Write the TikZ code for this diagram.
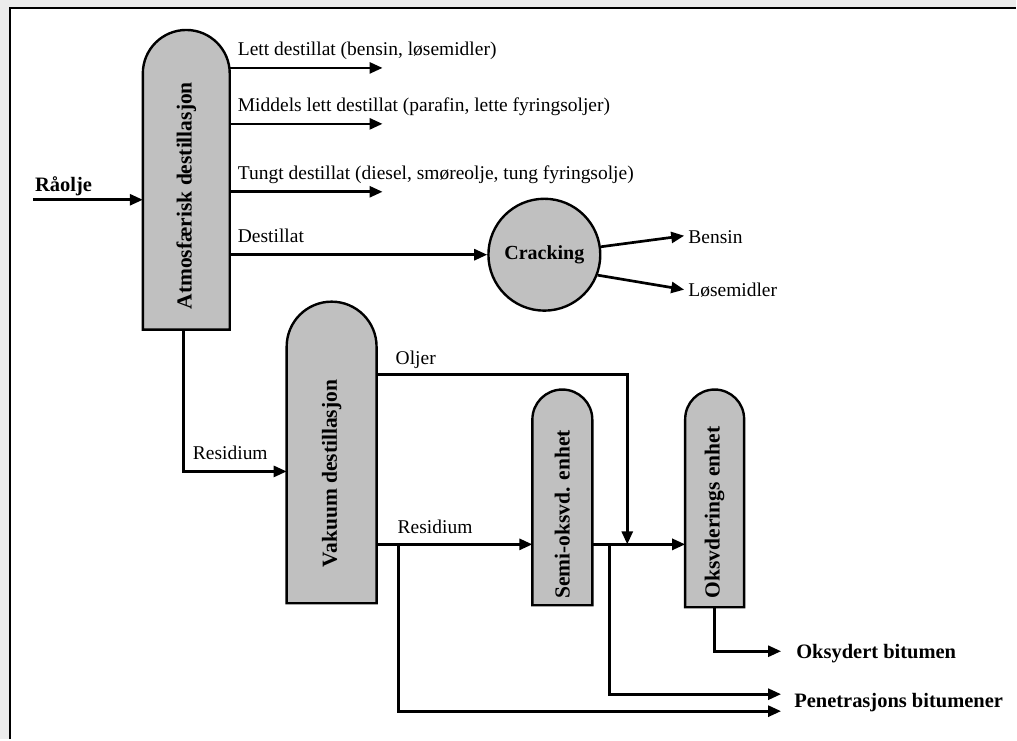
\documentclass[tikz,border=0pt]{standalone}
\usepackage{fontspec}
\setmainfont{Liberation Serif}
\usetikzlibrary{arrows.meta}
\definecolor{colgray}{RGB}{192,192,192}
\definecolor{outgray}{RGB}{236,236,236}
\newcommand\tower[2]{\draw[col] (#1.south west) -- ([yshift=-#2]#1.north west) arc[start angle=180,end angle=0,radius=#2] -- (#1.south east) -- cycle;}
\begin{document}
\begin{tikzpicture}[x=1pt,y=-1pt,
  col/.style={draw=black,fill=colgray,line width=2.4pt},
  body/.style={inner sep=0pt,outer sep=0pt,draw=none},
  arr/.style={-{Triangle[length=13pt,width=11pt]},line width=2.7pt},
  lbl/.style={font=\fontsize{19.5}{22}\selectfont,anchor=base west,inner sep=0pt},
  blbl/.style={font=\fontsize{20.5}{24}\selectfont\bfseries,anchor=base west,inner sep=0pt},
  coltext/.style={font=\fontsize{21.5}{24}\selectfont\bfseries,rotate=90,inner sep=0pt},
]
% frame
\fill[outgray] (0,0) rectangle (1017,740);
\fill[white] (10,8) rectangle (1017,740);
\draw[line width=2.4pt] (10,740) -- (10,8) -- (1017,8);
\useasboundingbox (0,0) rectangle (1017,740);

% column bodies
\node[body,minimum width=87pt,minimum height=300pt] (atm) at (186.5,180) {};
\node[body,minimum width=90pt,minimum height=302pt] (vak) at (332,453) {};
\node[body,minimum width=60pt,minimum height=216pt] (semi) at (563,498) {};
\node[body,minimum width=59pt,minimum height=218pt] (oks) at (715.5,499) {};
\tower{atm}{43.5pt}
\tower{vak}{45pt}
\tower{semi}{30pt}
\tower{oks}{29.5pt}
\node[coltext] (atmT) at (186.5,196) {Atmosfærisk destillasjon};
\node[coltext] (vakT) at (332,474) {Vakuum destillasjon};
\node[coltext] (semiT) at (563,515) {Semi-oksvd. enhet};
\node[coltext] (oksT) at (715.5,513) {Oksvderings enhet};

% cracking
\node[circle,draw,fill=colgray,line width=2.4pt,minimum size=112pt,inner sep=0pt,font=\fontsize{20}{24}\selectfont\bfseries] (crack) at (545,255) {Cracking};

% raw oil
\coordinate (raoS) at (33,200);
\draw[arr] (raoS) -- (raoS -| atm.west);
\node[blbl] (raoL) at (35,192) {Råolje};

% atmospheric outputs
\coordinate (lettE) at (383,68);
\coordinate (midE) at (383,124);
\coordinate (tungE) at (383,192);
\draw[arr] (atm.east |- lettE) -- (lettE);
\draw[arr] (atm.east |- midE) -- (midE);
\draw[arr] (atm.east |- tungE) -- (tungE);
\draw[arr] (atm.east |- crack.west) -- (crack.west);
\node[lbl] (lettL) at (238,56) {Lett destillat (bensin, løsemidler)};
\node[lbl] (midL) at (238,112) {Middels lett destillat (parafin, lette fyringsoljer)};
\node[lbl] (tungL) at (238,180) {Tungt destillat (diesel, smøreolje, tung fyringsolje)};
\node[lbl] (destL) at (238,243) {Destillat};

% cracking outputs
\coordinate (bensinE) at (685,236);
\coordinate (losE) at (685,290);
\draw[arr] (crack.8) -- (bensinE);
\draw[arr] (crack.-21) -- (losE);
\node[lbl,anchor=west] (bensinL) at (689,237) {Bensin};
\node[lbl,anchor=west] (losL) at (689,290) {Løsemidler};

% residium to vacuum
\coordinate (res1) at (184,472);
\draw[arr] (atm.south -| res1) -- (res1) -- (res1 -| vak.west);
\node[lbl] (res1L) at (193,460) {Residium};

% oils
\coordinate (oljC) at (628,375);
\coordinate (junc) at (628,545);
\draw[arr] (vak.east |- oljC) -- (oljC) -- (junc);
\node[lbl] (oljL) at (396,365) {Oljer};

% residium to semi
\draw[arr] (vak.east |- junc) -- (semi.west |- junc);
\node[lbl] (res2L) at (398,534) {Residium};
\coordinate (b1) at (399,545);
\coordinate (pen2) at (782,712);
\draw[arr] (b1) -- (b1 |- pen2) -- (pen2);

% semi to oxidation
\draw[arr] (semi.east |- junc) -- (oks.west |- junc);
\coordinate (b2) at (610,545);
\coordinate (pen1) at (782,695);
\draw[arr] (b2) -- (b2 |- pen1) -- (pen1);

% oxidation output
\coordinate (oksE) at (782,652);
\draw[arr] (oks.south) -- (oks.south |- oksE) -- (oksE);
\node[blbl,anchor=west] (oksL) at (797,654) {Oksydert bitumen};
\node[blbl,anchor=west] (penL) at (795,703) {Penetrasjons bitumener};
\end{tikzpicture}
\end{document}
